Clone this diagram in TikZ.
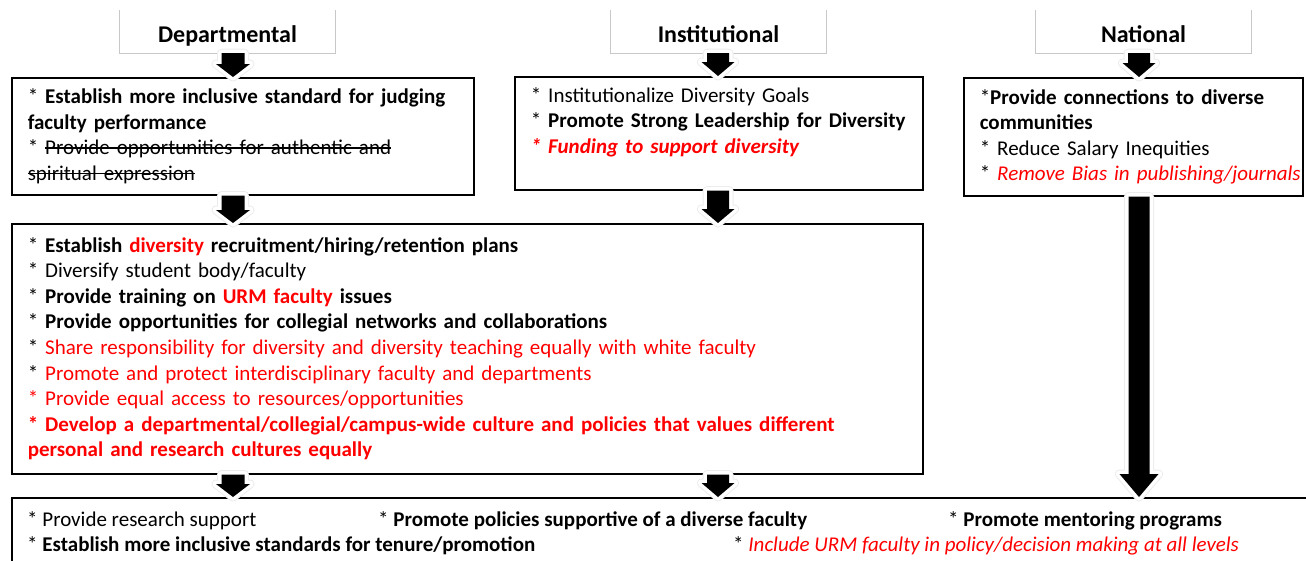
\documentclass[tikz,border=0pt]{standalone}
\usepackage{fontspec}
\setmainfont{Carlito}
\usepackage{xcolor}
\usetikzlibrary{calc}
\definecolor{urmred}{RGB}{255,0,0}
\definecolor{hdrgray}{RGB}{200,200,200}
\newcommand{\rd}[1]{\textcolor{urmred}{#1}}
\newsavebox{\strkbox}
\newcommand{\strk}[1]{\leavevmode\sbox\strkbox{#1}\rlap{\usebox\strkbox}\rule[0.3em]{\wd\strkbox}{0.07em}}
\tikzset{%
    blockarrow/.style n args={3}{%
        to path={let \p1=(\tikztostart), \p2=(\tikztotarget) in
            (\x1-#1,\y1) -- (\x1-#1,\y2+#3) -- (\x1-#2,\y2+#3) -- (\x1,\y2)
            -- (\x1+#2,\y2+#3) -- (\x1+#1,\y2+#3) -- (\x1+#1,\y1) -- cycle}
    }
}

\begin{document}
\begin{tikzpicture}[x=1pt,y=-1pt,
  header/.style={minimum width=215pt,minimum height=43pt,inner sep=0pt,
    text height=21pt,text depth=0pt,font=\fontsize{24}{28}\selectfont\bfseries},
  item box/.style={draw,line width=1.5pt,anchor=north west,align=left,
    inner xsep=16pt,inner ysep=0pt,font=\fontsize{21}{25.6}\selectfont},
  item text/.style={anchor=base west,inner sep=0pt,font=\fontsize{21}{25.6}\selectfont},
  flow/.style={fill=black,
    preaction={draw=gray!15,line width=9pt,line join=round},
    preaction={draw=white,line width=7pt,line join=round}}]
  \useasboundingbox (0,0) rectangle (1306,560);

  % level headers
  \node[header] (dephdr) at (227.5,31.5) {Departmental};
  \node[header] (inshdr) at (718.5,31.5) {Institutional};
  \node[header] (nathdr) at (1143.5,31.5) {National};
  \foreach \h in {dephdr,inshdr,nathdr}
    \draw[hdrgray,line width=0.8pt] (\h.north west) |- (\h.south east) -- (\h.north east);

  % first row of boxes
  \node[item box,minimum width=462pt,minimum height=117pt,text width=430pt] (dep1) at (11,77)
    {{*} \textbf{Establish more inclusive standard for judging}\\
     \textbf{faculty performance}\\
     {*} \strk{Provide opportunities for authentic and}\\
     \strk{spiritual expression}};
  \node[item box,minimum width=408pt,minimum height=113pt,text width=376pt] (ins1) at (514,76)
    {{*} Institutionalize Diversity Goals\\
     {*} \textbf{Promote Strong Leadership for Diversity}\\
     \rd{\textbf{\textit{* Funding to support diversity}}}\\
     ~};
  \node[item box,minimum width=339pt,minimum height=118pt,text width=307pt] (nat1) at (963,77)
    {{*}\textbf{Provide connections to diverse}\\
     \textbf{communities}\\
     {*} Reduce Salary Inequities\\
     \mbox{* \rd{\textit{Remove Bias in publishing/journals}}}};

  % combined box
  \node[item box,minimum width=911pt,minimum height=250pt,text width=879pt] (mid) at (11,223)
    {{*} \textbf{Establish \rd{diversity} recruitment/hiring/retention plans}\\
     {*} Diversify student body/faculty\\
     {*} \textbf{Provide training on \rd{URM faculty} issues}\\
     {*} \textbf{Provide opportunities for collegial networks and collaborations}\\
     {*} \rd{Share responsibility for diversity and diversity teaching equally with white faculty}\\
     {*} \rd{Promote and protect interdisciplinary faculty and departments}\\
     \rd{* Provide equal access to resources/opportunities}\\
     \rd{\textbf{* Develop a departmental/collegial/campus-wide culture and policies that values different}}\\
     \rd{\textbf{personal and research cultures equally}}};

  % outcome box
  \node[item box,minimum width=1320pt,minimum height=90pt] (out) at (11,497) {};
  \node[item text] (out1) at (27,526) {* Provide research support};
  \node[item text] (out2) at (378,526) {* \textbf{Promote policies supportive of a diverse faculty}};
  \node[item text] (out3) at (948,526) {* \textbf{Promote mentoring programs}};
  \node[item text] (out4) at (27,551) {* \textbf{Establish more inclusive standards for tenure/promotion}};
  \node[item text] (out5) at (733,551) {* \rd{\textit{Include URM faculty in policy/decision making at all levels}}};

  % arrows
  \coordinate (depx) at (233,0);
  \coordinate (insx) at (718,0);
  \coordinate (natx) at (1139,0);
  \path[flow] (dephdr.south -| depx) to[blockarrow={11.5pt}{17pt}{13pt}] (dep1.north -| depx);
  \path[flow] (inshdr.south -| insx) to[blockarrow={11pt}{16.5pt}{14pt}] (ins1.north -| insx);
  \path[flow] (nathdr.south -| natx) to[blockarrow={11pt}{16.5pt}{14pt}] (nat1.north -| natx);
  \path[flow] (dep1.south -| depx) to[blockarrow={11.5pt}{17pt}{13pt}] (mid.north -| depx);
  \path[flow] (ins1.south -| insx) to[blockarrow={11pt}{16.5pt}{14pt}] (mid.north -| insx);
  \path[flow] (mid.south -| depx) to[blockarrow={11.5pt}{17pt}{13pt}] (out.north -| depx);
  \path[flow] (mid.south -| insx) to[blockarrow={11pt}{16.5pt}{14pt}] (out.north -| insx);
  \path[flow] (nat1.south -| natx) to[blockarrow={10.5pt}{19.5pt}{23pt}] (out.north -| natx);
\end{tikzpicture}
\end{document}
